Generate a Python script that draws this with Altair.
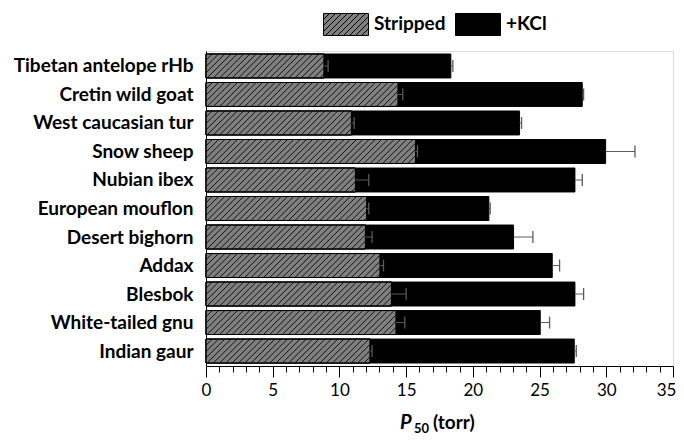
import json
import altair as alt
import pandas as pd

# ---------------- data ----------------
names = ["Tibetan antelope rHb", "Cretin wild goat", "West caucasian tur", "Snow sheep",
         "Nubian ibex", "European mouflon", "Desert bighorn", "Addax", "Blesbok",
         "White-tailed gnu", "Indian gaur"]
stripped = [8.85, 14.4, 10.9, 15.7, 11.2, 12.05, 11.95, 13.05, 13.9, 14.25, 12.3]
stripped_err = [0.3, 0.35, 0.2, 0.15, 1.0, 0.15, 0.5, 0.25, 1.1, 0.65, 0.15]
kcl = [18.35, 28.2, 23.5, 29.95, 27.65, 21.2, 23.05, 25.95, 27.65, 25.05, 27.6]
kcl_err = [0.15, 0.1, 0.15, 2.2, 0.55, 0.1, 1.45, 0.55, 0.65, 0.7, 0.15]
series_names = ["Stripped", "+KCl"]
x_ticks = list(range(0, 36))
row_index = list(range(len(names)))

# ---------------- styling constants ----------------
FONT = "Lato"
HALF = 0.42      # half bar thickness (y units)
CAP = 0.21       # half error-bar cap height (y units)
RUN = 1.8        # hatch slant run (x units)
SPACING = 0.47   # hatch spacing (x units)
ERR_COLOR = "#5a5a5a"

wide = pd.DataFrame({"name": names, "idx": row_index, "stripped": stripped,
                     "s_err": stripped_err, "kcl": kcl, "k_err": kcl_err})
long = pd.concat([
    pd.DataFrame({"series": series_names[1], "idx": row_index, "value": kcl}),
    pd.DataFrame({"series": series_names[0], "idx": row_index, "value": stripped}),
], ignore_index=True)

# hatched legend symbol path (unit coords, scaled by sqrt(size)/2)
h = 0.489
run_u = 2 * h
sp_u = 0.267
parts = [f"M-1,-{h}H1V{h}H-1Z"]
s = -1 - run_u
while s < 1:
    xa = max(s, -1.0)
    xb = min(s + run_u, 1.0)
    if xb > xa:
        ya = h - (xa - s) / run_u * 2 * h
        yb = h - (xb - s) / run_u * 2 * h
        parts.append(f"M{xa:.3f},{ya:.3f}L{xb:.3f},{yb:.3f}")
    s += sp_u
legend_path = "".join(parts)

x_scale = alt.Scale(domain=[0, 35], nice=False, zero=False)
y_scale = alt.Scale(domain=[-0.525, 10.525], reverse=True, nice=False, zero=False)

x_axis = alt.Axis(
    values=x_ticks,
    labelExpr="datum.value % 5 === 0 ? datum.label : ''",
    tickSize={"condition": {"test": "datum.value % 5 === 0", "value": 11}, "value": 6},
    labelOffset={"condition": {"test": "datum.value === 35", "value": -7}, "value": 0},
    tickColor="black", tickWidth=1, domainColor="black", domainWidth=1,
    labelFont=FONT, labelFontSize=17, labelColor="black", labelPadding=5,
    labelOverlap=False, labelFlush=False, grid=False, title=None,
)
y_axis = alt.Axis(
    values=row_index,
    labelExpr=json.dumps(names) + "[datum.value]",
    ticks=False, domainColor="black", domainWidth=1,
    labelFont=FONT, labelFontSize=19, labelFontWeight="bold", labelColor="black",
    labelPadding=13, grid=False, title=None,
)

bars = alt.Chart(long).transform_calculate(
    zero="0",
    y_lo=f"datum.idx - {HALF}",
    y_hi=f"datum.idx + {HALF}",
).mark_rect(stroke="black", strokeWidth=1).encode(
    x=alt.X("zero:Q", scale=x_scale, axis=x_axis),
    x2="value:Q",
    y=alt.Y("y_lo:Q", scale=y_scale, axis=y_axis),
    y2="y_hi:Q",
    fill=alt.Fill(
        "series:N",
        scale=alt.Scale(domain=series_names, range=["#808080", "#000000"]),
        legend=alt.Legend(
            title=None, orient="none", direction="horizontal",
            legendX=117, legendY=-50,
            symbolType=legend_path, symbolSize=2025,
            symbolStrokeColor="black", symbolStrokeWidth=1, symbolOpacity=1,
            labelFont=FONT, labelFontSize=19, labelFontWeight="bold", labelColor="black",
            labelOffset=5, columnPadding=7,
            labelExpr="datum.label === '+KCl' ? '\u00a0\u00a0+KCl' : datum.label",
        ),
    ),
)

hatch = alt.Chart(wide).transform_calculate(
    s=f"sequence(-{RUN}, datum.stripped, {SPACING})"
).transform_flatten(["s"]).transform_calculate(
    xa="max(datum.s, 0)",
    xb=f"min(datum.s + {RUN}, datum.stripped)",
).transform_calculate(
    ya=f"datum.idx + {HALF} - (datum.xa - datum.s) / {RUN} * {2 * HALF}",
    yb=f"datum.idx + {HALF} - (datum.xb - datum.s) / {RUN} * {2 * HALF}",
).transform_filter("datum.xb > datum.xa").mark_rule(
    color="#111111", strokeWidth=1
).encode(
    x=alt.X("xa:Q", scale=x_scale, axis=x_axis),
    x2="xb:Q",
    y=alt.Y("ya:Q", scale=y_scale, axis=y_axis),
    y2="yb:Q",
)

# outline of stripped bars redrawn above hatching
stripped_outline = alt.Chart(wide).transform_calculate(
    zero="0",
    y_lo=f"datum.idx - {HALF}",
    y_hi=f"datum.idx + {HALF}",
).mark_rect(fillOpacity=0, stroke="black", strokeWidth=1).encode(
    x=alt.X("zero:Q", scale=x_scale, axis=x_axis),
    x2="stripped:Q",
    y=alt.Y("y_lo:Q", scale=y_scale, axis=y_axis),
    y2="y_hi:Q",
)


def error_layers(val, err):
    base = alt.Chart(wide).transform_calculate(
        hi=f"datum.{val} + datum.{err}",
        cl=f"datum.idx - {CAP}",
        ch=f"datum.idx + {CAP}",
    )
    line = base.mark_rule(color=ERR_COLOR, strokeWidth=1).encode(
        x=alt.X(f"{val}:Q", scale=x_scale, axis=x_axis),
        x2="hi:Q",
        y=alt.Y("idx:Q", scale=y_scale, axis=y_axis),
    )
    cap = base.mark_rule(color=ERR_COLOR, strokeWidth=1.3).encode(
        x=alt.X("hi:Q", scale=x_scale, axis=x_axis),
        y=alt.Y("cl:Q", scale=y_scale, axis=y_axis),
        y2="ch:Q",
    )
    return [line, cap]


def label(text, dx, dy, size, style="normal"):
    return alt.Chart(pd.DataFrame({"t": [text]})).mark_text(
        font=FONT, fontSize=size, fontWeight="bold", fontStyle=style,
        align="left", baseline="alphabetic", color="black",
    ).encode(x=alt.value(dx), y=alt.value(dy), text="t:N")


title_layers = [
    label("P", 194, 378, 20, "italic"),
    label("50", 208, 382, 13),
    label("(torr)", 227, 378, 19),
]

chart = alt.layer(
    bars,
    *error_layers("kcl", "k_err"),
    hatch,
    stripped_outline,
    *error_layers("stripped", "s_err"),
    *title_layers,
).properties(
    width=467, height=315,
    padding={"left": 198, "top": 43, "right": 3, "bottom": 72},
    autosize=alt.AutoSizeParams(type="none"),
).configure_view(stroke=None).configure(font=FONT)

chart.save("out.html", embed_options={"renderer": "svg", "actions": False})
